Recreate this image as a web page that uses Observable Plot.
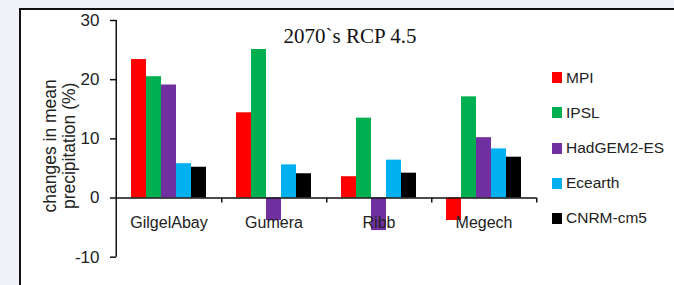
<!DOCTYPE html>
<html><head><meta charset="utf-8">
<script src="https://cdn.jsdelivr.net/npm/d3@7"></script>
<script src="https://cdn.jsdelivr.net/npm/@observablehq/plot@0.6"></script>
<style>
html,body{margin:0;padding:0}
body{background:#f0f2f8;width:674px;height:285px;overflow:hidden;position:relative;font-family:"Liberation Sans",Arial,sans-serif;color:#222}
#panel{position:absolute;left:19px;top:8px;width:655px;height:277px;background:#fff;border-left:2px solid #111;border-top:2px solid #111;box-sizing:border-box}
#chart{position:absolute;left:0;top:0}
#title{position:absolute;left:250px;width:200px;top:26px;text-align:center;font-family:"Liberation Serif","Times New Roman",serif;font-size:21px;line-height:1;color:#111;white-space:nowrap}
.leg{position:absolute;left:552px;height:20px;display:flex;align-items:center;font-size:15.5px;line-height:20px;white-space:nowrap}
.leg i{display:inline-block;width:10px;height:11px;margin-right:4px}
</style></head>
<body>
<div id="panel"></div>
<div id="chart"></div>
<div id="title"></div>
<div id="legend"></div>
<script>
const basins = ["GilgelAbay", "Gumera", "Ribb", "Megech"];
const models = ["MPI", "IPSL", "HadGEM2-ES", "Ecearth", "CNRM-cm5"];
const colors = ["#ff0000", "#00b050", "#7030a0", "#00b0f0", "#000000"];
const mpi     = [23.4, 14.4, 3.6, -3.8];
const ipsl    = [20.5, 25.1, 13.5, 17.1];
const hadgem  = [19.1, -3.8, -5.5, 10.2];
const ecearth = [5.8, 5.6, 6.4, 8.3];
const cnrm    = [5.2, 4.1, 4.2, 6.9];
const yTicks = [-10, 0, 10, 20, 30];
const yDomain = [-10, 30];
const titleText = "2070`s RCP 4.5";
const yLabel = "changes in mean\nprecipitation (%)";

const series = [mpi, ipsl, hadgem, ecearth, cnrm];
const rows = basins.flatMap((b, i) => models.map((m, j) => ({basin: b, model: m, value: series[j][i]})));

const W = 674, H = 285, ML = 115, MR = 137, MT = 20, MB = 28.3;
const halfFacet = (W - ML - MR) / basins.length / 2;
const pxPerUnit = (H - MT - MB) / (yDomain[1] - yDomain[0]);
const tickLen = 5 / pxPerUnit;

const chart = Plot.plot({
  width: W, height: H,
  marginLeft: ML, marginRight: MR, marginTop: MT, marginBottom: MB,
  style: {background: "transparent", fontFamily: "Liberation Sans, Arial, sans-serif", fontSize: "16px", color: "#222"},
  fx: {domain: basins, paddingInner: 0, paddingOuter: 0, axis: null},
  x: {domain: models, paddingInner: 0, paddingOuter: 0.8, axis: null},
  y: {domain: yDomain, axis: null},
  color: {domain: models, range: colors},
  marks: [
    Plot.barY(rows, {fx: "basin", x: "model", y: "value", fill: "model"}),
    Plot.ruleY([0], {stroke: "#111", strokeWidth: 1.5}),
    Plot.ruleX(basins, {fx: d => d, x: null, y1: 0, y2: -tickLen, dx: halfFacet, stroke: "#111", strokeWidth: 1.5}),
    Plot.ruleX([basins[0]], {fx: d => d, x: null, y1: yDomain[0], y2: yDomain[1], dx: -halfFacet, stroke: "#111", strokeWidth: 1.5}),
    Plot.axisY({ticks: yTicks, tickSize: 6, tickPadding: 11, label: null, fontSize: 17, stroke: "#111", strokeWidth: 1.5, tickFormat: d => String(d)}),
    Plot.text(basins, {fx: d => d, text: d => d, y: 0, dy: 25, fontSize: 16, fill: "#222"}),
    Plot.text([yLabel], {fx: () => basins[0], frameAnchor: "left", textAnchor: "middle", rotate: -90, dx: -57.5, dy: 7, fontSize: 17.5, lineHeight: 1.1, fill: "#222"})
  ]
});
document.getElementById("chart").append(chart);
document.getElementById("title").textContent = titleText;

const leg = document.getElementById("legend");
models.forEach((m, i) => {
  const d = document.createElement("div");
  d.className = "leg";
  d.style.top = (77.8 + 35.15 * i - 10) + "px";
  const sw = document.createElement("i");
  sw.style.background = colors[i];
  d.append(sw, document.createTextNode(m));
  leg.append(d);
});
</script>
</body></html>
